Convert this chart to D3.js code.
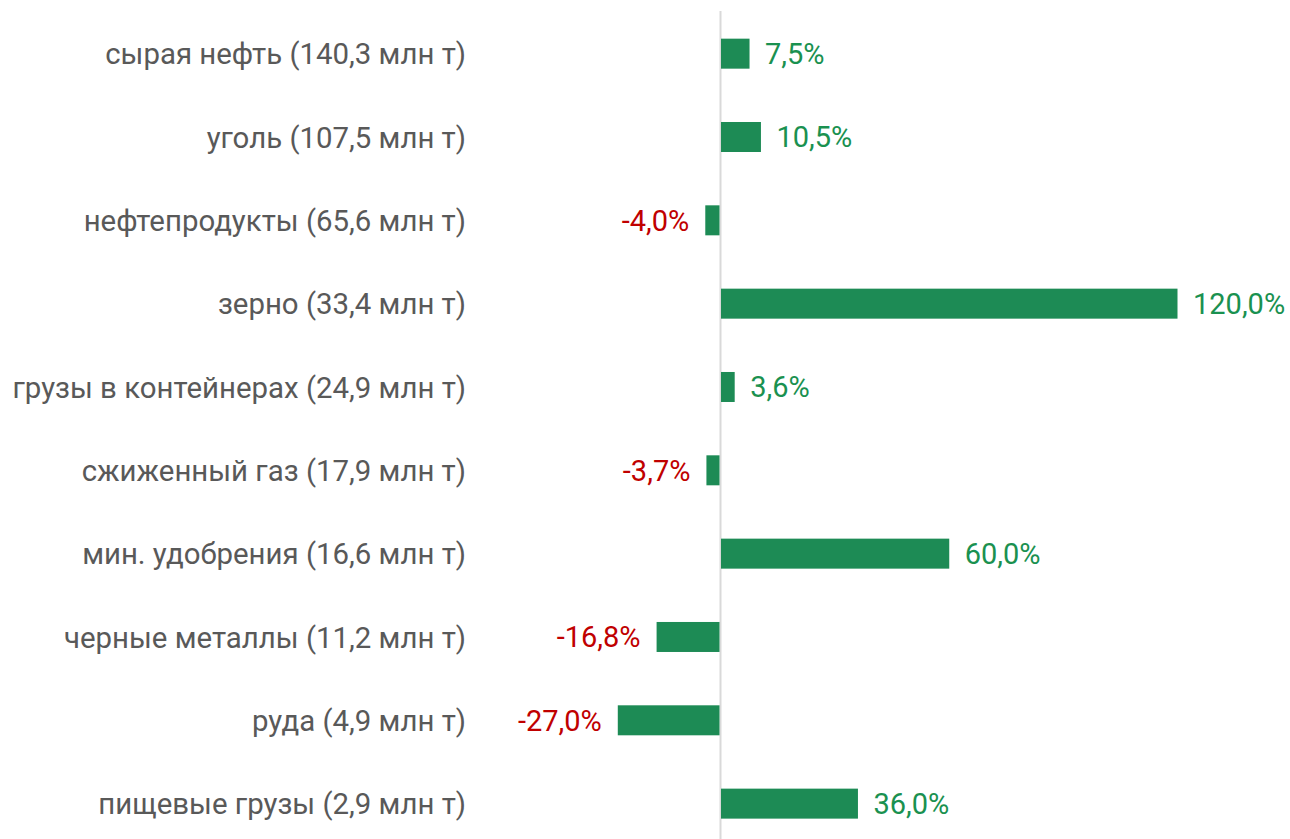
<!DOCTYPE html>
<html><head><meta charset="utf-8">
<script src="https://cdn.jsdelivr.net/npm/d3@7"></script>
<style>html,body{margin:0;padding:0;background:#fff;}svg{display:block;}</style>
</head><body>
<svg id="chart" width="1290" height="839"></svg>
<script>
const categories = [
  "сырая нефть (140,3 млн т)",
  "уголь (107,5 млн т)",
  "нефтепродукты (65,6 млн т)",
  "зерно (33,4 млн т)",
  "грузы в контейнерах (24,9 млн т)",
  "сжиженный газ (17,9 млн т)",
  "мин. удобрения (16,6 млн т)",
  "черные металлы (11,2 млн т)",
  "руда (4,9 млн т)",
  "пищевые грузы (2,9 млн т)"
];
const values = [7.5, 10.5, -4.0, 120.0, 3.6, -3.7, 60.0, -16.8, -27.0, 36.0];
const valueLabels = ["7,5%", "10,5%", "-4,0%", "120,0%", "3,6%", "-3,7%", "60,0%", "-16,8%", "-27,0%", "36,0%"];

const svg = d3.select("#chart");
const x = d3.scaleLinear().domain([0, 120]).range([720.5, 1177]);
const y = d3.scaleBand().domain(categories).range([12, 845.3]).paddingInner(0.64).paddingOuter(0.32);

// zero axis line
svg.append("line")
  .attr("x1", x(0)).attr("x2", x(0))
  .attr("y1", 11).attr("y2", 839)
  .attr("stroke", "#d9d9d9").attr("stroke-width", 2);

svg.append("g").selectAll("rect").data(values).join("rect")
  .attr("x", d => d >= 0 ? x(0) + 0.5 : x(d))
  .attr("width", d => Math.abs(x(d) - x(0)) - (d >= 0 ? 0 : 1))
  .attr("y", (d, i) => y(categories[i]))
  .attr("height", y.bandwidth())
  .attr("fill", "#1d8b55");

svg.append("g").selectAll("text").data(values).join("text")
  .attr("x", d => d >= 0 ? x(d) + 16 : x(d) - 16)
  .attr("y", (d, i) => y(categories[i]) + y.bandwidth() / 2)
  .attr("dy", "0.36em")
  .attr("text-anchor", d => d >= 0 ? "start" : "end")
  .attr("font-family", "Roboto, sans-serif")
  .attr("font-size", 29)
  .attr("fill", d => d >= 0 ? "#1a9150" : "#c00000")
  .text((d, i) => valueLabels[i]);

svg.append("g").selectAll("text").data(categories).join("text")
  .attr("x", 466)
  .attr("y", d => y(d) + y.bandwidth() / 2)
  .attr("dy", "0.36em")
  .attr("text-anchor", "end")
  .attr("font-family", "Roboto, sans-serif")
  .attr("font-size", 29.4)
  .attr("fill", "#595959")
  .text(d => d);
</script>
</body></html>
